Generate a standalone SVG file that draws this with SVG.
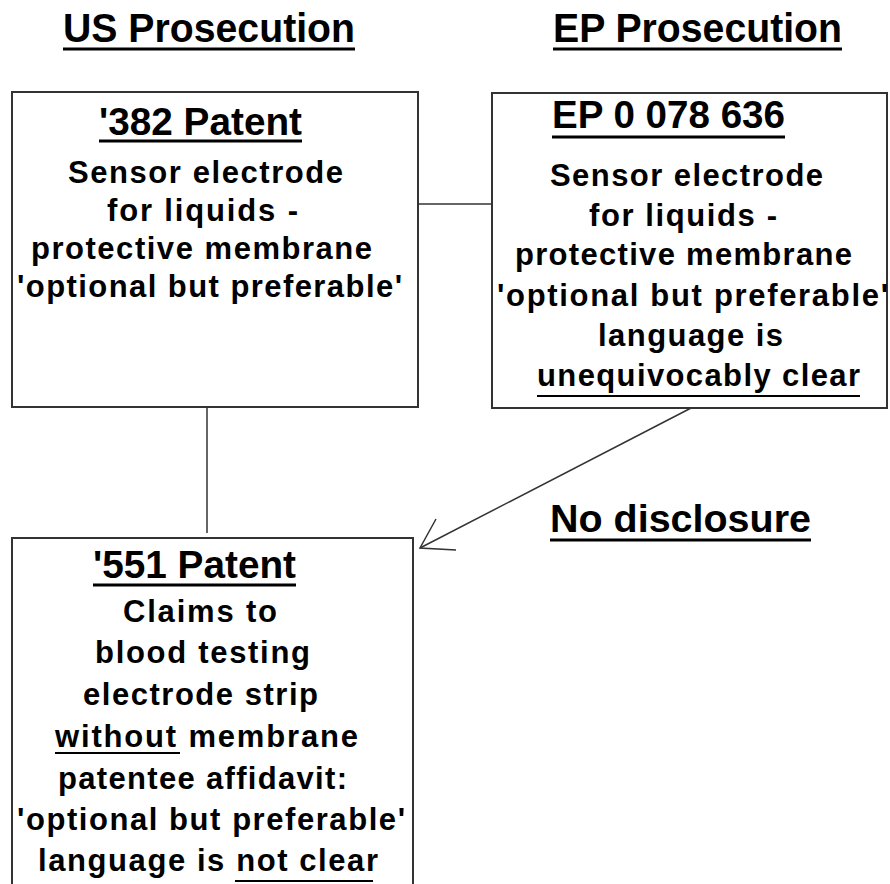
<svg xmlns="http://www.w3.org/2000/svg" width="890" height="884" viewBox="0 0 890 884">
<style>
text{font-family:"Liberation Sans",Arial,sans-serif;font-weight:bold;fill:#000}
.h{font-size:41px}
.t{font-size:39px}
.b{font-size:31px}
.box{fill:#fff;stroke:#333;stroke-width:2}
.con{fill:none;stroke:#333;stroke-width:1.5}
.ul{stroke:#000;stroke-width:3}
.ulb{stroke:#000;stroke-width:2}
</style>
<rect width="890" height="884" fill="#fff"/>
<g id="headers">
<text class="h" x="63" y="42" textLength="292" lengthAdjust="spacingAndGlyphs">US Prosecution</text>
<line class="ul" x1="63" y1="49" x2="355" y2="49"/>
<text class="h" x="553" y="42" textLength="289" lengthAdjust="spacingAndGlyphs">EP Prosecution</text>
<line class="ul" x1="553" y1="49" x2="842" y2="49"/>
</g>
<g id="connectors">
<line class="con" x1="418" y1="204" x2="492" y2="204"/>
<line class="con" x1="207" y1="407" x2="207" y2="533"/>
<line class="con" x1="693" y1="407" x2="420" y2="548"/>
<polyline class="con" points="436,519 420,548 456,550"/>
</g>
<g id="patent382">
<rect class="box" x="12" y="92" width="406" height="315"/>
<text class="t" x="99" y="135" textLength="203" lengthAdjust="spacingAndGlyphs">'382 Patent</text>
<line class="ul" x1="99" y1="141" x2="302" y2="141"/>
<text class="b" x="68" y="183" textLength="275">Sensor electrode</text>
<text class="b" x="107" y="221" textLength="191">for liquids -</text>
<text class="b" x="31" y="259" textLength="341">protective membrane</text>
<text class="b" x="17" y="297" textLength="385">'optional but preferable'</text>
</g>
<g id="ep0078636">
<rect class="box" x="492" y="93" width="395" height="315"/>
<text class="t" x="552" y="128" textLength="233" lengthAdjust="spacingAndGlyphs">EP 0 078 636</text>
<line class="ul" x1="552" y1="137" x2="785" y2="137"/>
<text class="b" x="550" y="186" textLength="273">Sensor electrode</text>
<text class="b" x="589" y="226" textLength="188">for liquids -</text>
<text class="b" x="515" y="265" textLength="337">protective membrane</text>
<text class="b" x="497" y="306" textLength="391">'optional but preferable'</text>
<text class="b" x="598" y="346" textLength="185">language is</text>
<text class="b" x="537" y="386" textLength="323">unequivocably clear</text>
<line class="ulb" x1="537" y1="396" x2="860" y2="396"/>
</g>
<g id="patent551">
<rect class="box" x="12" y="538" width="401" height="370"/>
<text class="t" x="93" y="578" textLength="203" lengthAdjust="spacingAndGlyphs">'551 Patent</text>
<line class="ul" x1="93" y1="585" x2="296" y2="585"/>
<text class="b" x="123" y="622" textLength="154">Claims to</text>
<text class="b" x="95" y="663" textLength="215">blood testing</text>
<text class="b" x="83" y="705" textLength="235">electrode strip</text>
<text class="b" x="55" y="747" textLength="303">without membrane</text>
<line class="ulb" x1="55" y1="753" x2="180" y2="753"/>
<text class="b" x="58" y="789" textLength="289">patentee affidavit:</text>
<text class="b" x="17" y="830" textLength="388">'optional but preferable'</text>
<text class="b" x="38" y="871" textLength="340">language is not clear</text>
<line class="ulb" x1="235" y1="881" x2="373" y2="881"/>
</g>
<g id="nodisclosure">
<text class="t" x="550" y="532" textLength="261" lengthAdjust="spacingAndGlyphs">No disclosure</text>
<line class="ul" x1="550" y1="540" x2="811" y2="540"/>
</g>
</svg>
